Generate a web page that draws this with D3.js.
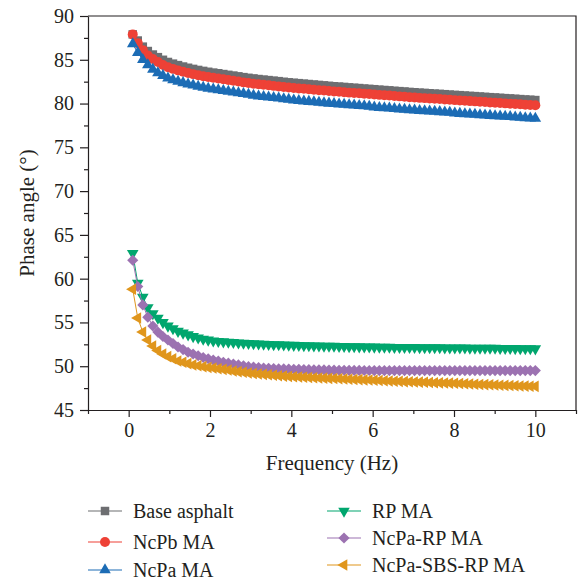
<!DOCTYPE html>
<html>
<head>
  <meta charset="utf-8">
  <title>Phase angle vs frequency</title>
  <script src="https://d3js.org/d3.v7.min.js"></script>
  <style>
    body { margin: 0; background: #fff; }
    svg { display: block; font-family: "Liberation Serif", "Times New Roman", serif; }
    .axis path, .axis line { stroke: #231f20; stroke-width: 1.2; }
    .axis text { font-size: 20px; fill: #231f20; font-family: "Liberation Serif", serif; }
    .axis-title { font-size: 21px; fill: #231f20; text-anchor: middle; }
    .legend text { font-size: 20px; fill: #231f20; dominant-baseline: central; }
  </style>
</head>
<body>
  <div id="chart"></div>
  <script>
    // Frequency sweep (Hz)
    const freq = [0.100, 0.224, 0.348, 0.471, 0.595, 0.719, 0.843, 0.966, 1.090, 1.214,
      1.338, 1.461, 1.585, 1.709, 1.833, 1.956, 2.080, 2.204, 2.328, 2.451,
      2.575, 2.699, 2.823, 2.946, 3.070, 3.194, 3.318, 3.441, 3.565, 3.689,
      3.813, 3.936, 4.060, 4.184, 4.308, 4.431, 4.555, 4.679, 4.803, 4.926,
      5.050, 5.174, 5.298, 5.421, 5.545, 5.669, 5.793, 5.916, 6.040, 6.164,
      6.288, 6.411, 6.535, 6.659, 6.783, 6.906, 7.030, 7.154, 7.278, 7.401,
      7.525, 7.649, 7.773, 7.896, 8.020, 8.144, 8.268, 8.391, 8.515, 8.639,
      8.763, 8.886, 9.010, 9.134, 9.258, 9.381, 9.505, 9.629, 9.753, 9.876, 10.000];

    // Phase angle (deg) per binder
    const baseAsphalt = [87.9, 87.2, 86.5, 86.0, 85.6, 85.3, 85.0, 84.75, 84.56, 84.39,
      84.23, 84.09, 83.96, 83.84, 83.73, 83.63, 83.54, 83.46, 83.37, 83.28,
      83.20, 83.11, 83.02, 82.94, 82.87, 82.80, 82.74, 82.68, 82.62, 82.56,
      82.49, 82.43, 82.38, 82.33, 82.28, 82.23, 82.18, 82.13, 82.08, 82.03,
      81.98, 81.94, 81.90, 81.85, 81.81, 81.77, 81.72, 81.68, 81.64, 81.59,
      81.55, 81.51, 81.46, 81.42, 81.38, 81.33, 81.29, 81.25, 81.22, 81.18,
      81.14, 81.11, 81.07, 81.03, 80.99, 80.96, 80.92, 80.88, 80.85, 80.81,
      80.77, 80.73, 80.70, 80.66, 80.62, 80.59, 80.55, 80.51, 80.47, 80.44, 80.40];

    const ncpbMA = [87.9, 86.9, 86.1, 85.5, 85.1, 84.75, 84.4, 84.15, 83.96, 83.79,
      83.63, 83.49, 83.36, 83.24, 83.13, 83.03, 82.94, 82.86, 82.77, 82.68,
      82.60, 82.51, 82.42, 82.34, 82.27, 82.20, 82.14, 82.08, 82.02, 81.96,
      81.89, 81.83, 81.78, 81.73, 81.68, 81.63, 81.58, 81.53, 81.48, 81.43,
      81.38, 81.34, 81.30, 81.25, 81.21, 81.17, 81.12, 81.08, 81.04, 80.99,
      80.95, 80.91, 80.86, 80.82, 80.78, 80.73, 80.69, 80.65, 80.62, 80.58,
      80.54, 80.51, 80.47, 80.43, 80.39, 80.36, 80.32, 80.28, 80.25, 80.21,
      80.17, 80.13, 80.10, 80.06, 80.02, 79.99, 79.95, 79.91, 79.87, 79.84, 79.80];

    const ncpaMA = [86.8, 85.8, 85.0, 84.4, 83.9, 83.5, 83.2, 82.9, 82.71, 82.53,
      82.37, 82.22, 82.09, 81.96, 81.84, 81.74, 81.64, 81.56, 81.47, 81.38,
      81.30, 81.21, 81.12, 81.04, 80.92, 80.85, 80.79, 80.73, 80.67, 80.61,
      80.54, 80.48, 80.38, 80.33, 80.28, 80.23, 80.18, 80.13, 80.08, 80.03,
      79.98, 79.94, 79.90, 79.85, 79.81, 79.77, 79.72, 79.68, 79.59, 79.54,
      79.50, 79.46, 79.41, 79.37, 79.33, 79.28, 79.24, 79.20, 79.17, 79.13,
      79.09, 79.06, 79.02, 78.98, 78.89, 78.86, 78.82, 78.78, 78.75, 78.71,
      78.67, 78.63, 78.60, 78.56, 78.52, 78.49, 78.45, 78.41, 78.37, 78.34, 78.30];

    const rpMA = [62.9, 59.5, 57.9, 56.7, 56.0, 55.5, 55.0, 54.6, 54.3, 54.0,
      53.8, 53.6, 53.4, 53.25, 53.1, 53.0, 52.9, 52.85, 52.8, 52.76,
      52.72, 52.68, 52.65, 52.62, 52.59, 52.56, 52.53, 52.5, 52.48, 52.46,
      52.44, 52.42, 52.40, 52.39, 52.37, 52.36, 52.34, 52.33, 52.31, 52.30,
      52.29, 52.28, 52.26, 52.25, 52.24, 52.23, 52.22, 52.21, 52.20, 52.19,
      52.18, 52.18, 52.17, 52.16, 52.16, 52.15, 52.15, 52.14, 52.14, 52.13,
      52.13, 52.12, 52.11, 52.11, 52.10, 52.09, 52.09, 52.08, 52.08, 52.07,
      52.07, 52.06, 52.06, 52.05, 52.04, 52.04, 52.03, 52.02, 52.02, 52.01, 52.00];

    const ncpaRpMA = [62.1, 59.1, 57.0, 55.6, 54.6, 53.9, 53.4, 53.0, 52.6, 52.2,
      51.9, 51.6, 51.4, 51.2, 51.0, 50.85, 50.7, 50.6, 50.45, 50.35,
      50.25, 50.15, 50.05, 49.95, 49.9, 49.85, 49.8, 49.77, 49.74, 49.71,
      49.69, 49.67, 49.65, 49.64, 49.62, 49.61, 49.6, 49.59, 49.58, 49.56,
      49.55, 49.54, 49.54, 49.53, 49.52, 49.52, 49.51, 49.51, 49.50, 49.50,
      49.50, 49.50, 49.50, 49.50, 49.50, 49.50, 49.50, 49.50, 49.50, 49.50,
      49.50, 49.50, 49.50, 49.50, 49.50, 49.50, 49.50, 49.50, 49.50, 49.50,
      49.50, 49.50, 49.50, 49.50, 49.50, 49.50, 49.50, 49.50, 49.50, 49.50, 49.50];

    const ncpaSbsRpMA = [58.8, 55.5, 53.9, 53.0, 52.3, 51.8, 51.4, 51.1, 50.85, 50.6,
      50.45, 50.3, 50.15, 50.05, 49.95, 49.85, 49.8, 49.72, 49.64, 49.56,
      49.46, 49.38, 49.31, 49.23, 49.17, 49.12, 49.07, 49.02, 48.97, 48.92,
      48.87, 48.83, 48.79, 48.77, 48.74, 48.71, 48.69, 48.66, 48.64, 48.61,
      48.59, 48.57, 48.54, 48.52, 48.49, 48.47, 48.44, 48.42, 48.39, 48.37,
      48.34, 48.32, 48.29, 48.27, 48.24, 48.22, 48.20, 48.18, 48.16, 48.14,
      48.12, 48.10, 48.08, 48.07, 48.05, 48.03, 48.00, 47.97, 47.95, 47.92,
      47.90, 47.88, 47.85, 47.83, 47.81, 47.79, 47.77, 47.75, 47.73, 47.72, 47.70];

    const seriesNames = ["Base asphalt", "NcPb MA", "NcPa MA", "RP MA", "NcPa-RP MA", "NcPa-SBS-RP MA"];
    const xTicks = [0, 2, 4, 6, 8, 10];
    const xMinorTicks = [-1, 1, 3, 5, 7, 9, 11];
    const yTicks = [45, 50, 55, 60, 65, 70, 75, 80, 85, 90];
    const yMinorTicks = [47.5, 52.5, 57.5, 62.5, 67.5, 72.5, 77.5, 82.5, 87.5];

    const width = 579, height = 582;
    const plot = { left: 88, right: 576, top: 16, bottom: 410 };

    const svg = d3.select("#chart").append("svg")
      .attr("width", width)
      .attr("height", height);

    const x = d3.scaleLinear().domain([-1, 11]).range([plot.left, plot.right]);
    const y = d3.scaleLinear().domain([45, 90]).range([plot.bottom, plot.top]);

    // marker styles per series
    const styles = [
      { color: "#6d6e71", shape: d3.symbolSquare, size: 72, rotate: 0 },
      { color: "#ee4136", shape: d3.symbolCircle, size: 78, rotate: 0 },
      { color: "#1c6cb5", shape: d3.symbolTriangle, size: 58, rotate: 0 },
      { color: "#00a66e", shape: d3.symbolTriangle, size: 58, rotate: 180 },
      { color: "#9c72b1", shape: d3.symbolSquare, size: 62, rotate: 45 },
      { color: "#e0961c", shape: d3.symbolTriangle, size: 58, rotate: -90 }
    ];
    const allSeries = [baseAsphalt, ncpbMA, ncpaMA, rpMA, ncpaRpMA, ncpaSbsRpMA];

    // frame (top & right)
    svg.append("path")
      .attr("d", `M${plot.left},${plot.top}H${plot.right}V${plot.bottom}`)
      .attr("fill", "none")
      .attr("stroke", "#231f20")
      .attr("stroke-width", 1.2);

    // series
    const line = d3.line().x((d, i) => x(freq[i])).y(d => y(d));
    allSeries.forEach((vals, k) => {
      const st = styles[k];
      const g = svg.append("g");
      g.append("path")
        .attr("d", line(vals))
        .attr("fill", "none")
        .attr("stroke", st.color)
        .attr("stroke-width", 1);
      g.selectAll("path.m")
        .data(vals)
        .enter()
        .append("path")
          .attr("class", "m")
          .attr("d", d3.symbol().type(st.shape).size(st.size))
          .attr("transform", (d, i) => `translate(${x(freq[i])},${y(d)}) rotate(${st.rotate})`)
          .attr("fill", st.color);
    });

    // axes
    svg.append("g")
      .attr("class", "axis")
      .attr("transform", `translate(0,${plot.bottom})`)
      .call(d3.axisBottom(x).tickValues(xMinorTicks).tickSize(4).tickFormat(""))
      .call(g => g.select(".domain").remove());
    svg.append("g")
      .attr("class", "axis")
      .attr("transform", `translate(0,${plot.bottom})`)
      .call(d3.axisBottom(x).tickValues(xTicks).tickSizeInner(7).tickSizeOuter(0).tickPadding(6).tickFormat(d3.format("d")));

    svg.append("g")
      .attr("class", "axis")
      .attr("transform", `translate(${plot.left},0)`)
      .call(d3.axisLeft(y).tickValues(yMinorTicks).tickSize(4).tickFormat(""))
      .call(g => g.select(".domain").remove());
    svg.append("g")
      .attr("class", "axis")
      .attr("transform", `translate(${plot.left},0)`)
      .call(d3.axisLeft(y).tickValues(yTicks).tickSizeInner(8).tickSizeOuter(0).tickPadding(6).tickFormat(d3.format("d")));

    // axis titles
    svg.append("text")
      .attr("class", "axis-title")
      .attr("x", (plot.left + plot.right) / 2)
      .attr("y", 470)
      .text("Frequency (Hz)");

    svg.append("text")
      .attr("class", "axis-title")
      .attr("transform", `translate(34,${(plot.top + plot.bottom) / 2}) rotate(-90)`)
      .text("Phase angle (°)");

    // legend
    const legendPos = [
      { lx: 88, ty: 511 }, { lx: 88, ty: 542 }, { lx: 88, ty: 570 },
      { lx: 327, ty: 511 }, { lx: 327, ty: 538 }, { lx: 327, ty: 565 }
    ];
    const legend = svg.append("g").attr("class", "legend");
    seriesNames.forEach((name, k) => {
      const st = styles[k], p = legendPos[k];
      const g = legend.append("g").attr("transform", `translate(${p.lx},${p.ty})`);
      g.append("line")
        .attr("x1", 0).attr("x2", 34)
        .attr("stroke", st.color).attr("stroke-width", 1.2);
      g.append("path")
        .attr("d", d3.symbol().type(st.shape).size(st.size))
        .attr("transform", `translate(17,0) rotate(${st.rotate})`)
        .attr("fill", st.color);
      g.append("text")
        .attr("x", 45)
        .attr("y", 0)
        .text(name);
    });
  </script>
</body>
</html>
